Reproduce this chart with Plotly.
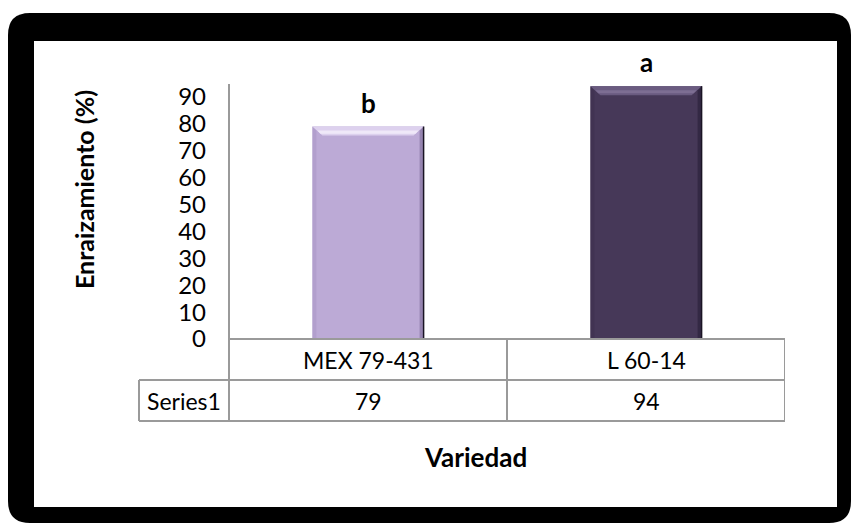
import plotly.graph_objects as go

# ---- data ----
categories = ["MEX 79-431", "L 60-14"]
values = [79, 94]
letters = ["b", "a"]
series_name = "Series1"
y_ticks = [0, 10, 20, 30, 40, 50, 60, 70, 80, 90]

# ---- styling ----
bar_colors = ["#bcaad6", "#463858"]
bevel_top = ["#ddd1ee", "#6a5b80"]
bevel_top_hi = ["#efe8f8", "#7d6e93"]
bevel_left = ["#ab98c6", "#3d304e"]
bevel_right = ["#8c7aa6", "#2e2440"]
grid_grey = "#9a9a9a"
FONT = "Lato"

W, H = 851, 523
L, R, T, B = 229, 66, 84, 184          # plot area margins in px
PW, PH = W - L - R, H - T - B
Y_MAX = 94.8
BAR_W = 0.4


def px(x):
    """pixel x -> paper x"""
    return (x - L) / PW


def py(y):
    """pixel y -> paper y"""
    return (H - B - y) / PH


x_per_px = 2.0 / PW
y_per_px = Y_MAX / PH

fig = go.Figure()
fig.add_trace(go.Bar(
    x=list(range(len(categories))), y=values, width=BAR_W,
    marker=dict(color=bar_colors, line=dict(width=0)),
    hoverinfo="skip", showlegend=False,
))

shapes = []

# frame: black rounded border with white inside
ox0, oy0, ox1, oy1, r = 8, 13, 851, 523, 22
frame_path = (
    f"M{px(ox0 + r)},{py(oy0)} L{px(ox1 - r)},{py(oy0)} "
    f"Q{px(ox1)},{py(oy0)} {px(ox1)},{py(oy0 + r)} "
    f"L{px(ox1)},{py(oy1 - r)} Q{px(ox1)},{py(oy1)} {px(ox1 - r)},{py(oy1)} "
    f"L{px(ox0 + r)},{py(oy1)} Q{px(ox0)},{py(oy1)} {px(ox0)},{py(oy1 - r)} "
    f"L{px(ox0)},{py(oy0 + r)} Q{px(ox0)},{py(oy0)} {px(ox0 + r)},{py(oy0)} Z"
)
shapes.append(dict(type="path", xref="paper", yref="paper", path=frame_path,
                   fillcolor="black", line=dict(width=0), layer="below"))
shapes.append(dict(type="rect", xref="paper", yref="paper",
                   x0=px(34), x1=px(837), y0=py(41), y1=py(507),
                   fillcolor="white", line=dict(width=0), layer="below"))

# bevel highlights on each bar
dx = 10 * x_per_px
dy = 9 * y_per_px
dy2 = 4 * y_per_px
ex = 4 * x_per_px
ey = 4 * y_per_px
for i, v in enumerate(values):
    x0, x1 = i - BAR_W / 2, i + BAR_W / 2
    # side strips
    shapes.append(dict(type="path", xref="x", yref="y",
                       path=f"M{x0},{v} L{x0 + ex},{v - ey} L{x0 + ex},0 L{x0},0 Z",
                       fillcolor=bevel_left[i], line=dict(width=0), opacity=0.6))
    shapes.append(dict(type="path", xref="x", yref="y",
                       path=f"M{x1},{v} L{x1 - ex},{v - ey} L{x1 - ex},0 L{x1},0 Z",
                       fillcolor=bevel_right[i], line=dict(width=0), opacity=0.8))
    # top bevel
    shapes.append(dict(type="path", xref="x", yref="y",
                       path=f"M{x0},{v} L{x1},{v} L{x1 - dx},{v - dy} L{x0 + dx},{v - dy} Z",
                       fillcolor=bevel_top[i], line=dict(width=0)))
    shapes.append(dict(type="path", xref="x", yref="y",
                       path=f"M{x0 + dx * 0.5},{v - dy * 0.45} L{x1 - dx * 0.5},{v - dy * 0.45} "
                            f"L{x1 - dx * 0.8},{v - dy * 0.8} L{x0 + dx * 0.8},{v - dy * 0.8} Z",
                       fillcolor=bevel_top_hi[i], line=dict(width=0)))
    shapes.append(dict(type="line", xref="x", yref="y", x0=x1, x1=x1, y0=0, y1=v,
                       line=dict(color="#1a1424", width=1.5)))

# data table grid under the axis
line = dict(color=grid_grey, width=2)
row1, row2, row3 = py(339), py(380), py(421)
n = len(categories)
shapes.append(dict(type="line", xref="paper", yref="paper", x0=0, x1=0,
                   y0=1, y1=row3, line=line))
shapes.append(dict(type="line", xref="paper", yref="paper", x0=0, x1=1,
                   y0=row1, y1=row1, line=line))
for yy in (row2, row3):
    shapes.append(dict(type="line", xref="paper", yref="paper", x0=px(139), x1=1,
                       y0=yy, y1=yy, line=line))
shapes.append(dict(type="line", xref="paper", yref="paper", x0=px(139), x1=px(139),
                   y0=row2, y1=row3, line=line))
for k in range(1, n + 1):
    shapes.append(dict(type="line", xref="x", yref="paper", x0=k - 0.5, x1=k - 0.5,
                       y0=row1, y1=row3, line=line))

annotations = []
tfont = dict(family=FONT, size=23, color="black")
for i, (c, v, lt) in enumerate(zip(categories, values, letters)):
    annotations.append(dict(x=i, y=(row1 + row2) / 2, xref="x", yref="paper",
                            text=c, showarrow=False, font=tfont,
                            xanchor="center", yanchor="middle"))
    annotations.append(dict(x=i, y=(row2 + row3) / 2, xref="x", yref="paper",
                            text=str(v), showarrow=False, font=tfont,
                            xanchor="center", yanchor="middle"))
    annotations.append(dict(x=i, y=v, xref="x", yref="y", text=f"<b>{lt}</b>",
                            showarrow=False, xanchor="center", yanchor="bottom", yshift=6,
                            font=dict(family=FONT, size=26, color="black")))
annotations.append(dict(x=px(184), y=(row2 + row3) / 2, xref="paper", yref="paper",
                        text=series_name, showarrow=False, font=tfont,
                        xanchor="center", yanchor="middle"))
annotations.append(dict(x=px(475), y=py(457), xref="paper", yref="paper",
                        text="<b>Variedad</b>", showarrow=False,
                        xanchor="center", yanchor="middle",
                        font=dict(family=FONT, size=26, color="black")))
annotations.append(dict(x=px(84), y=py(190), xref="paper", yref="paper",
                        text="<b>Enraizamiento (%)</b>", showarrow=False, textangle=-90,
                        xanchor="center", yanchor="middle",
                        font=dict(family=FONT, size=25, color="black")))

fig.update_layout(
    width=W, height=H, autosize=False,
    margin=dict(l=L, r=R, t=T, b=B, pad=0),
    paper_bgcolor="white", plot_bgcolor="rgba(0,0,0,0)",
    shapes=shapes, annotations=annotations,
    xaxis=dict(range=[-0.5, n - 0.5], showticklabels=False, showgrid=False,
               zeroline=False, showline=False, fixedrange=True),
    yaxis=dict(range=[0, Y_MAX], tickvals=y_ticks, showgrid=False, zeroline=False,
               showline=False, ticks="", ticklabelstandoff=22,
               tickfont=dict(family=FONT, size=24, color="black"), fixedrange=True),
)

fig.write_html("out.html", config=dict(displayModeBar=False))
